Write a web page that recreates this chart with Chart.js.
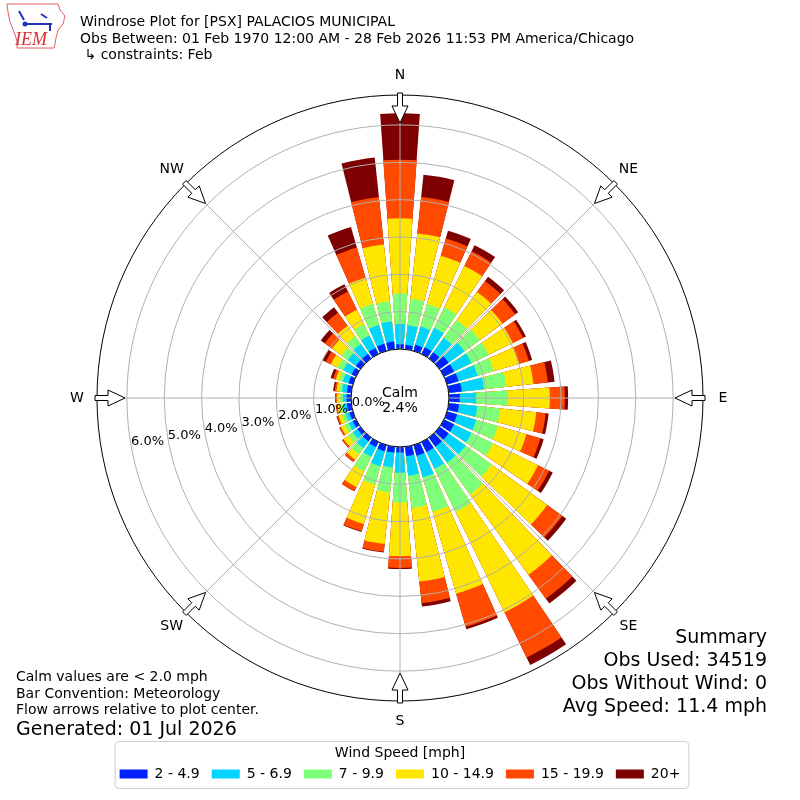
<!DOCTYPE html>
<html>
<head>
<meta charset="utf-8">
<script src="https://cdn.jsdelivr.net/npm/chart.js@4.4.1/dist/chart.umd.min.js"></script>
<style>
  html, body { margin: 0; padding: 0; background: #fff; }
  #wrap { width: 800px; height: 800px; }
</style>
</head>
<body>
<div id="wrap"><canvas id="windrose" width="800" height="800"></canvas></div>
<script>
// ===== Data: percent of observations per direction and speed bin =====
const directions = [0, 10, 20, 30, 40, 50, 60, 70, 80, 90, 100, 110, 120, 130, 140, 150, 160, 170,
                    180, 190, 200, 210, 220, 230, 240, 250, 260, 270, 280, 290, 300, 310, 320, 330, 340, 350];
const speed2to5   = [0.13, 0.12, 0.17, 0.20, 0.20, 0.30, 0.30, 0.32, 0.35, 0.29, 0.28, 0.28, 0.30, 0.30, 0.30, 0.30, 0.30, 0.25,
                     0.15, 0.16, 0.17, 0.15, 0.12, 0.10, 0.10, 0.10, 0.12, 0.12, 0.12, 0.12, 0.13, 0.15, 0.15, 0.18, 0.20, 0.21];
const speed5to7   = [0.54, 0.52, 0.51, 0.58, 0.48, 0.52, 0.52, 0.53, 0.60, 0.44, 0.49, 0.53, 0.52, 0.56, 0.53, 0.50, 0.60, 0.53,
                     0.54, 0.40, 0.42, 0.29, 0.23, 0.15, 0.12, 0.10, 0.10, 0.10, 0.13, 0.16, 0.25, 0.27, 0.33, 0.37, 0.52, 0.54];
const speed7to10  = [0.82, 0.72, 0.63, 0.61, 0.59, 0.51, 0.51, 0.45, 0.60, 0.85, 0.61, 0.60, 0.64, 0.86, 1.05, 1.28, 0.96, 0.87,
                     0.80, 0.67, 0.51, 0.44, 0.20, 0.15, 0.12, 0.10, 0.08, 0.07, 0.08, 0.10, 0.17, 0.20, 0.25, 0.34, 0.59, 0.54];
const speed10to15 = [2.01, 1.76, 1.34, 1.23, 0.93, 0.75, 0.72, 0.71, 0.73, 1.12, 0.98, 0.80, 1.34, 1.84, 2.66, 2.99, 2.28, 1.98,
                     1.43, 1.39, 1.10, 0.46, 0.18, 0.16, 0.11, 0.10, 0.08, 0.09, 0.07, 0.10, 0.20, 0.32, 0.35, 0.43, 0.73, 1.53];
const speed15to20 = [1.57, 0.98, 0.48, 0.44, 0.36, 0.42, 0.31, 0.27, 0.39, 0.40, 0.25, 0.39, 0.33, 0.50, 0.79, 1.35, 0.92, 0.58,
                     0.32, 0.21, 0.20, 0.12, 0.07, 0.04, 0.04, 0.04, 0.03, 0.04, 0.05, 0.07, 0.15, 0.24, 0.43, 0.54, 0.84, 1.27];
const speed20plus = [1.24, 0.60, 0.22, 0.18, 0.14, 0.10, 0.08, 0.09, 0.18, 0.09, 0.08, 0.09, 0.11, 0.13, 0.16, 0.22, 0.07, 0.09,
                     0.03, 0.02, 0.02, 0.01, 0.01, 0.01, 0.01, 0.02, 0.01, 0.01, 0.04, 0.07, 0.10, 0.13, 0.18, 0.22, 0.57, 1.07];
const calmPct = 2.4;

const binLabels = ['2 - 4.9', '5 - 6.9', '7 - 9.9', '10 - 14.9', '15 - 19.9', '20+'];
const binColors = ['#0022ff', '#00d4ff', '#7dff7a', '#ffe600', '#ff4a00', '#7f0000'];
const rTicks = [0, 1, 2, 3, 4, 5, 6];
const compassLabels = ['N', 'NE', 'E', 'SE', 'S', 'SW', 'W', 'NW'];

const headerLines = [
  'Windrose Plot for [PSX] PALACIOS MUNICIPAL',
  'Obs Between: 01 Feb 1970 12:00 AM - 28 Feb 2026 11:53 PM America/Chicago',
  ' \u21b3 constraints: Feb'
];
const noteLines = ['Calm values are < 2.0 mph', 'Bar Convention: Meteorology', 'Flow arrows relative to plot center.'];
const generatedLine = 'Generated: 01 Jul 2026';
const summaryLines = ['Summary', 'Obs Used: 34519', 'Obs Without Wind: 0', 'Avg Speed: 11.4 mph'];

// ===== Styling / geometry =====
const barDeg = 8, gapDeg = 2;          // each 10 degree sector: bar + white gap
const rMin = -1.31, rMax = 6.8;         // negative min leaves room for the calm circle
const gridColor = '#b0b0b0';
const FONT = "'DejaVu Sans', sans-serif";

Chart.defaults.font.family = FONT;
Chart.defaults.font.size = 14;
Chart.defaults.color = '#000';

// stack the bins: each ring is drawn from the center out to its cumulative total
const binSeries = [speed2to5, speed5to7, speed7to10, speed10to15, speed15to20, speed20plus];
const stacked = binSeries.map((_, k) =>
  directions.map((_, i) => binSeries.slice(0, k + 1).reduce((t, arr) => t + arr[i], 0)));

// bar, gap, bar, gap ... around the circle
const labels = directions.flatMap(d => [d + '\u00b0', '']);

const deg = Math.PI / 180;
function polar(s, r, a) {
  return { x: s.xCenter + r * Math.sin(a * deg), y: s.yCenter - r * Math.cos(a * deg) };
}

function drawArrow(ctx, s, a) {
  const R = s.drawingArea;
  const tail = R + 2, neck = R - 11, tip = R - 28, hw = 2.5, hh = 8;
  const ux = Math.sin(a * deg), uy = -Math.cos(a * deg);
  const px = Math.cos(a * deg), py = Math.sin(a * deg);
  const pt = (r, w) => [s.xCenter + ux * r + px * w, s.yCenter + uy * r + py * w];
  const pts = [pt(tail, -hw), pt(tail, hw), pt(neck, hw), pt(neck, hh), pt(tip, 0), pt(neck, -hh), pt(neck, -hw)];
  ctx.beginPath();
  pts.forEach((p, i) => (i ? ctx.lineTo(p[0], p[1]) : ctx.moveTo(p[0], p[1])));
  ctx.closePath();
  ctx.fillStyle = '#fff';
  ctx.fill();
  ctx.strokeStyle = '#000';
  ctx.lineWidth = 1;
  ctx.stroke();
}

function drawLogo(ctx) {
  ctx.save();
  ctx.strokeStyle = '#e06060';
  ctx.lineWidth = 1;
  ctx.beginPath();
  [[7, 4], [58, 4], [60, 10], [65, 16], [63, 24], [58, 30], [56, 38], [55, 44], [54, 48], [17, 48], [17, 41], [14, 32], [10, 22], [8, 12]]
    .forEach((p, i) => (i ? ctx.lineTo(p[0], p[1]) : ctx.moveTo(p[0], p[1])));
  ctx.closePath();
  ctx.stroke();
  ctx.strokeStyle = '#2233bb';
  ctx.fillStyle = '#2233bb';
  ctx.lineWidth = 2;
  ctx.beginPath();
  ctx.moveTo(24, 24); ctx.lineTo(52, 24);
  ctx.moveTo(19, 11); ctx.lineTo(24, 20);
  ctx.moveTo(41, 14); ctx.lineTo(47, 18);
  ctx.moveTo(50, 24); ctx.lineTo(50, 31);
  ctx.stroke();
  ctx.beginPath();
  ctx.arc(25, 24, 2.5, 0, 2 * Math.PI);
  ctx.fill();
  ctx.fillStyle = '#d83030';
  ctx.font = "italic 18px 'Liberation Serif', serif";
  ctx.textAlign = 'left';
  ctx.textBaseline = 'alphabetic';
  ctx.fillText('IEM', 15, 45);
  ctx.restore();
}

const roseDecor = {
  id: 'roseDecor',
  afterDatasetsDraw(chart) {
    // spokes every 45 degrees, drawn over the bars
    const s = chart.scales.r, ctx = chart.ctx;
    const r0 = s.getDistanceFromCenterForValue(0);
    ctx.save();
    ctx.strokeStyle = gridColor;
    ctx.lineWidth = 1;
    compassLabels.forEach((_, i) => {
      const a = polar(s, r0, i * 45), b = polar(s, s.drawingArea, i * 45);
      ctx.beginPath(); ctx.moveTo(a.x, a.y); ctx.lineTo(b.x, b.y); ctx.stroke();
    });
    ctx.restore();
  },
  afterDraw(chart) {
    const s = chart.scales.r, ctx = chart.ctx;
    const r0 = s.getDistanceFromCenterForValue(0);
    ctx.save();

    // calm circle
    ctx.beginPath();
    ctx.arc(s.xCenter, s.yCenter, r0, 0, 2 * Math.PI);
    ctx.fillStyle = '#fff';
    ctx.fill();
    ctx.strokeStyle = '#000';
    ctx.lineWidth = 1;
    ctx.stroke();

    // outer frame
    ctx.beginPath();
    ctx.arc(s.xCenter, s.yCenter, s.drawingArea, 0, 2 * Math.PI);
    ctx.stroke();

    ctx.fillStyle = '#000';
    ctx.font = '14px ' + FONT;
    ctx.textAlign = 'center';
    ctx.textBaseline = 'alphabetic';
    ctx.fillText('Calm', s.xCenter, s.yCenter - 1.5);
    ctx.fillText(calmPct.toFixed(1) + '%', s.xCenter, s.yCenter + 13.5);

    // radial tick labels along 260 degrees
    ctx.font = '13px ' + FONT;
    ctx.textAlign = 'left';
    rTicks.forEach(v => {
      const p = polar(s, s.getDistanceFromCenterForValue(v), 260);
      ctx.fillText(v.toFixed(1) + '%', p.x, p.y);
    });

    // compass arrows + names
    ctx.font = '14px ' + FONT;
    compassLabels.forEach((name, i) => {
      drawArrow(ctx, s, i * 45);
      const p = polar(s, s.drawingArea + 20, i * 45);
      ctx.fillStyle = '#000';
      ctx.textAlign = 'center';
      ctx.textBaseline = 'middle';
      ctx.fillText(name, p.x, p.y);
    });

    // legend frame
    const lg = chart.legend;
    if (lg && lg.legendHitBoxes.length) {
      const hb = lg.legendHitBoxes;
      const x0 = Math.min(...hb.map(h => h.left)) - 5;
      const x1 = Math.max(...hb.map(h => h.left + h.width)) + 8;
      const y0 = lg.top - 1, y1 = lg.top + 46;
      ctx.beginPath();
      ctx.roundRect(x0 + 0.5, y0 + 0.5, x1 - x0, y1 - y0, 4);
      ctx.strokeStyle = '#cccccc';
      ctx.stroke();
    }

    // header
    drawLogo(ctx);
    ctx.fillStyle = '#000';
    ctx.textAlign = 'left';
    ctx.textBaseline = 'alphabetic';
    ctx.font = '14px ' + FONT;
    headerLines.forEach((t, i) => ctx.fillText(t, 80, 26 + i * 16.7));

    // notes, bottom left
    noteLines.forEach((t, i) => ctx.fillText(t, 16, 681 + i * 16.7));
    ctx.font = '19px ' + FONT;
    ctx.fillText(generatedLine, 16, 735);

    // summary, bottom right
    ctx.textAlign = 'right';
    summaryLines.forEach((t, i) => ctx.fillText(t, 767, 642.7 + i * 23));
    ctx.restore();
  }
};

new Chart(document.getElementById('windrose'), {
  type: 'polarArea',
  data: {
    labels: labels,
    datasets: stacked.map((vals, k) => ({
      label: binLabels[k],
      data: vals.flatMap(v => [v, 0]),
      backgroundColor: c => (c.index % 2 ? 'rgba(0,0,0,0)' : binColors[k]),
      borderWidth: 0,
      angle: c => (c.index % 2 ? gapDeg : barDeg)
    }))
  },
  options: {
    responsive: false,
    animation: false,
    events: [],
    layout: { padding: { left: 97, right: 97, top: 54, bottom: 9 } },
    scales: {
      r: {
        min: rMin,
        max: rMax,
        startAngle: -barDeg / 2,
        ticks: { display: false },
        grid: { color: gridColor, lineWidth: 1, z: 1 },
        angleLines: { display: false },
        pointLabels: { display: false },
        afterBuildTicks: s => { s.ticks = rTicks.map(v => ({ value: v })); }
      }
    },
    plugins: {
      tooltip: { enabled: false },
      legend: {
        position: 'bottom',
        labels: {
          boxWidth: 28,
          boxHeight: 9,
          padding: 12,
          color: '#000',
          font: { size: 14 },
          generateLabels: () => binLabels.map((t, i) => ({
            text: t, fillStyle: binColors[i], strokeStyle: binColors[i], lineWidth: 0, hidden: false, datasetIndex: i
          }))
        },
        title: {
          display: true,
          text: 'Wind Speed [mph]',
          color: '#000',
          font: { size: 14, lineHeight: 1 },
          padding: { top: 4, bottom: -5 }
        }
      }
    }
  },
  plugins: [roseDecor]
});
</script>
</body>
</html>
